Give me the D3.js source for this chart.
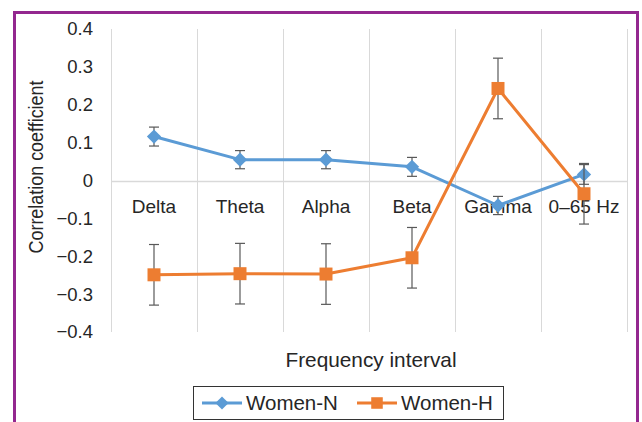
<!DOCTYPE html>
<html>
<head>
<meta charset="utf-8">
<script src="https://cdn.jsdelivr.net/npm/d3@7"></script>
<style>
  html, body { margin: 0; padding: 0; background: #fff; }
  svg { display: block; font-family: "Liberation Sans", Arial, Helvetica, sans-serif; }
</style>
</head>
<body>
<svg id="chart" width="642" height="422"></svg>
<script>
// Frequency bands on the x axis
const categories = ["Delta", "Theta", "Alpha", "Beta", "Gamma", "0\u201365 Hz"];
// Mean correlation coefficients per band
const womenN = [0.116, 0.055, 0.055, 0.036, -0.066, 0.016];
const womenH = [-0.249, -0.246, -0.247, -0.204, 0.243, -0.035];
// Error bar half-widths
const womenNErr = [0.025, 0.024, 0.024, 0.025, 0.024, 0.026];
const womenHErr = [0.08, 0.08, 0.08, 0.08, 0.08, 0.08];
// Y axis tick values
const yTicks = [0.4, 0.3, 0.2, 0.1, 0, -0.1, -0.2, -0.3, -0.4];

const series = [
  { name: "Women-N", values: womenN, err: womenNErr, color: "#5B9BD5", marker: "diamond" },
  { name: "Women-H", values: womenH, err: womenHErr, color: "#ED7D31", marker: "square" }
];

const textColor = "#262626";
const svg = d3.select("#chart");

// Frame around the figure
svg.append("rect")
  .attr("x", 14.5).attr("y", 12.5)
  .attr("width", 623).attr("height", 430)
  .attr("fill", "none")
  .attr("stroke", "#93278F")
  .attr("stroke-width", 3);

const plot = { left: 111, right: 627, top: 29, bottom: 332 };

const x = d3.scaleBand()
  .domain(categories)
  .range([plot.left, plot.right])
  .padding(0);

const y = d3.scaleLinear()
  .domain([-0.4, 0.4])
  .range([plot.bottom, plot.top]);

// Vertical category gridlines
const edges = categories.map(c => x(c)).concat([x.range()[1]]);
svg.append("g")
  .selectAll("line")
  .data(edges)
  .join("line")
  .attr("x1", d => d + 0.5).attr("x2", d => d + 0.5)
  .attr("y1", plot.top).attr("y2", plot.bottom)
  .attr("stroke", "#D9D9D9")
  .attr("stroke-width", 1);

// Zero line
svg.append("line")
  .attr("x1", plot.left).attr("x2", plot.right)
  .attr("y1", Math.round(y(0)) + 0.5).attr("y2", Math.round(y(0)) + 0.5)
  .attr("stroke", "#D9D9D9")
  .attr("stroke-width", 1.5);

// Y axis tick labels
const yAxis = d3.axisLeft(y)
  .tickValues(yTicks)
  .tickSize(0)
  .tickPadding(0)
  .tickFormat(d => d === 0 ? "0" : d3.format(".1f")(d).replace("-", "\u2212"));

const yg = svg.append("g")
  .attr("transform", `translate(93,0)`)
  .call(yAxis);
yg.select(".domain").remove();
yg.selectAll("text")
  .attr("font-size", 18.5)
  .attr("fill", textColor)
  .attr("font-family", "Liberation Sans, Arial, sans-serif");

// Category labels just under the zero line
const xAxis = d3.axisBottom(x).tickSize(0).tickPadding(0);
const xg = svg.append("g")
  .attr("transform", `translate(0,${y(0)})`)
  .call(xAxis);
xg.select(".domain").remove();
xg.selectAll("text")
  .attr("y", 32)
  .attr("dy", null)
  .attr("font-size", 19)
  .attr("fill", textColor)
  .attr("font-family", "Liberation Sans, Arial, sans-serif");

// Axis titles
svg.append("text")
  .attr("x", 371)
  .attr("y", 367)
  .attr("text-anchor", "middle")
  .attr("font-size", 20.8)
  .attr("fill", textColor)
  .text("Frequency interval");

svg.append("text")
  .attr("transform", `translate(43,167) rotate(-90)`)
  .attr("text-anchor", "middle")
  .attr("font-size", 19.5)
  .attr("textLength", 173)
  .attr("lengthAdjust", "spacingAndGlyphs")
  .attr("fill", textColor)
  .text("Correlation coefficient");

const cx = c => x(c) + x.bandwidth() / 2;

const line = d3.line()
  .x(d => cx(d.cat))
  .y(d => y(d.v));

series.forEach(s => {
  const pts = categories.map((c, i) => ({ cat: c, v: s.values[i], e: s.err[i] }));
  const g = svg.append("g");

  // Error bars
  const eb = g.append("g").attr("stroke", "#595959").attr("stroke-width", 1.2);
  pts.forEach(p => {
    const px = cx(p.cat);
    eb.append("line").attr("x1", px).attr("x2", px).attr("y1", y(p.v + p.e)).attr("y2", y(p.v - p.e));
    eb.append("line").attr("x1", px - 5).attr("x2", px + 5).attr("y1", y(p.v + p.e)).attr("y2", y(p.v + p.e));
    eb.append("line").attr("x1", px - 5).attr("x2", px + 5).attr("y1", y(p.v - p.e)).attr("y2", y(p.v - p.e));
  });

  g.append("path")
    .datum(pts)
    .attr("d", line)
    .attr("fill", "none")
    .attr("stroke", s.color)
    .attr("stroke-width", 3)
    .attr("stroke-linejoin", "round");

  const sym = s.marker === "diamond"
    ? d3.symbol().type(d3.symbolDiamond2).size(130)
    : d3.symbol().type(d3.symbolSquare2).size(215);
  g.selectAll("path.mark")
    .data(pts)
    .join("path")
    .attr("class", "mark")
    .attr("transform", d => `translate(${cx(d.cat)},${y(d.v)})`)
    .attr("d", sym())
    .attr("fill", s.color);
});

// Legend
const legend = svg.append("g");
legend.append("rect")
  .attr("x", 193.5).attr("y", 386.5)
  .attr("width", 310).attr("height", 33)
  .attr("fill", "#fff")
  .attr("stroke", "#333")
  .attr("stroke-width", 1);

const legItems = [
  { s: series[0], x0: 202, tx: 246 },
  { s: series[1], x0: 357, tx: 401 }
];
legItems.forEach(it => {
  const ly = 403;
  legend.append("line")
    .attr("x1", it.x0).attr("x2", it.x0 + 40)
    .attr("y1", ly).attr("y2", ly)
    .attr("stroke", it.s.color).attr("stroke-width", 3);
  const sym = it.s.marker === "diamond"
    ? d3.symbol().type(d3.symbolDiamond2).size(110)
    : d3.symbol().type(d3.symbolSquare2).size(170);
  legend.append("path")
    .attr("transform", `translate(${it.x0 + 20},${ly})`)
    .attr("d", sym())
    .attr("fill", it.s.color);
  legend.append("text")
    .attr("x", it.tx).attr("y", 410)
    .attr("font-size", 20.5)
    .attr("fill", textColor)
    .text(it.s.name);
});
</script>
</body>
</html>
